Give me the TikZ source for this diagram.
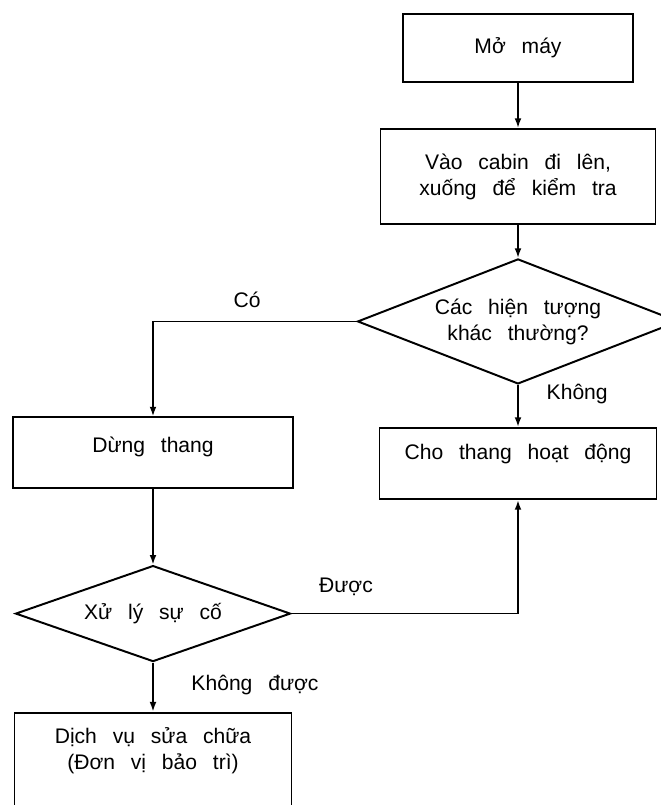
\documentclass[tikz,border=0pt]{standalone}
\usepackage{fontspec}
\setmainfont[WordSpace=2.7]{Liberation Sans}
\usetikzlibrary{arrows.meta,positioning,shapes.geometric}
\tikzset{
    hop/.style={
        rectangle,
        draw,
        line width=1.4pt,
        align=center,
        minimum height=1.9cm
    },
    quyetdinh/.style={
        diamond,
        draw,
        line width=1.4pt,
        align=center,
        aspect=2.5,
        inner sep=0pt
    },
    luong/.style={-{Latex[length=2.4mm,width=1.7mm]}, line width=1.2pt},
    nhan/.style={inner sep=1pt}
}

\begin{document}
\begin{tikzpicture}[font=\fontsize{15}{18.5}\selectfont]
        \useasboundingbox (0,0) rectangle (16.5,-20.125);

        % nhanh chinh ben phai
        \node[hop, minimum width=5.75cm, minimum height=1.7cm] (mo) at (12.95,-1.2)
            {Mở máy};
        \node[hop, below=1.125cm of mo, minimum width=6.875cm, minimum height=2.375cm] (vao)
            {Vào cabin đi lên,\\xuống để kiểm tra};
        \node[quyetdinh, below=0.825cm of vao, minimum width=8.025cm, minimum height=3.125cm] (hientuong)
            {Các hiện tượng\\khác thường?};
        \node[hop, below=1.05cm of hientuong, minimum width=6.925cm, minimum height=0pt,
              text height=19pt, text depth=25pt] (cho)
            {Cho thang hoạt động};

        % nhanh xu ly su co ben trai
        \node[hop, minimum width=7cm, minimum height=0pt,
              text height=22pt, text depth=21.3pt] (dung) at (3.825,-11.3125)
            {Dừng thang};
        \node[quyetdinh, below=1.9cm of dung, minimum width=6.875cm, minimum height=2.4cm] (xuly)
            {Xử lý sự cố};
        \node[hop, below=1.225cm of xuly, minimum width=6.925cm, minimum height=0pt,
              text height=37.5pt, text depth=27pt] (dichvu)
            {Dịch vụ sửa chữa\\(Đơn vị bảo trì)};

        % nhan tren cac nhanh
        \node[nhan] (co) at (6.175,-7.5) {Có};
        \node[nhan] (khong) at (14.43,-9.85) {Không};
        \node[nhan] (duoc) at (8.65,-14.675) {Được};
        \node[nhan] (khongduoc) at (6.375,-17.125) {Không được};

        \draw[luong] (mo) -- (vao);
        \draw[luong] (vao) -- (hientuong);
        \draw[luong] (hientuong.west) -| (dung.north);
        \draw[luong] (hientuong) -- (cho);
        \draw[luong] (dung) -- (xuly);
        \draw[luong] (xuly.east) -| (cho.south);
        \draw[luong] (xuly) -- (dichvu);
    \end{tikzpicture}
\end{document}
